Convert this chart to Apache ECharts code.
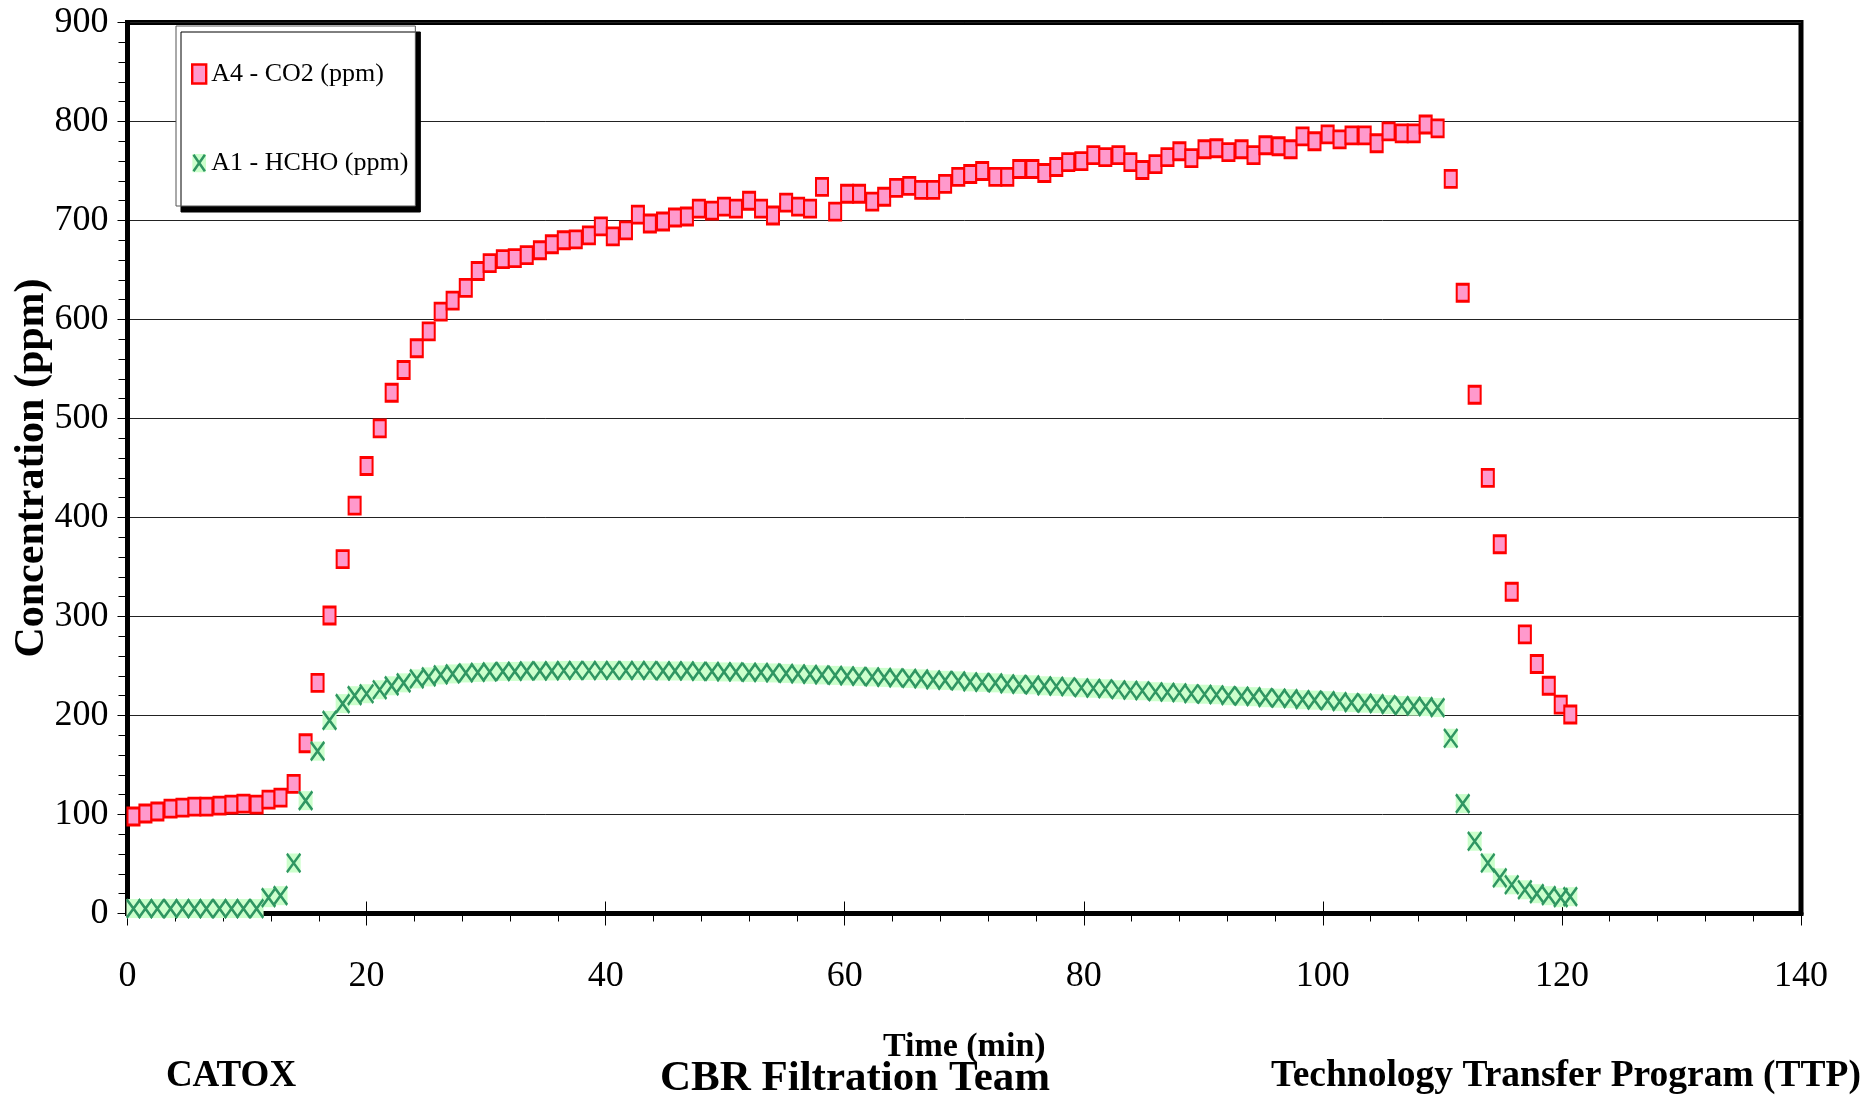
<!DOCTYPE html>
<html>
<head>
<meta charset="utf-8">
<script src="https://cdn.jsdelivr.net/npm/echarts@6.0.0/dist/echarts.min.js"></script>
<style>
html,body{margin:0;padding:0;background:#fff;}
#chart{width:1873px;height:1097px;}
</style>
</head>
<body>
<div id="chart"></div>
<script>
// Sample times (min)
const timeMin = [0.5,1.5,2.5,3.6,4.6,5.6,6.6,7.7,8.7,9.7,
10.8,11.8,12.8,13.9,14.9,15.9,16.9,18.0,19.0,20.0,
21.1,22.1,23.1,24.2,25.2,26.2,27.2,28.3,29.3,30.3,
31.4,32.4,33.4,34.5,35.5,36.5,37.5,38.6,39.6,40.6,
41.7,42.7,43.7,44.8,45.8,46.8,47.8,48.9,49.9,50.9,
52.0,53.0,54.0,55.1,56.1,57.1,58.1,59.2,60.2,61.2,
62.3,63.3,64.3,65.4,66.4,67.4,68.4,69.5,70.5,71.5,
72.6,73.6,74.6,75.7,76.7,77.7,78.7,79.8,80.8,81.8,
82.9,83.9,84.9,86.0,87.0,88.0,89.0,90.1,91.1,92.1,
93.2,94.2,95.2,96.3,97.3,98.3,99.3,100.4,101.4,102.4,
103.5,104.5,105.5,106.6,107.6,108.6,109.6,110.7,111.7,112.7,
113.8,114.8,115.8,116.9,117.9,118.9,119.9,120.7];

// A4 - CO2 (ppm)
const co2 = [98,101,103,106,107,108,108,109,110,111,
110,115,117,131,172,233,301,358,412,452,
490,526,549,571,588,608,619,632,649,657,
661,662,665,670,676,680,681,685,694,684,
690,706,697,699,703,704,712,710,714,712,
720,712,705,718,714,712,734,709,727,727,
719,724,733,735,731,731,737,744,747,750,
744,744,752,752,748,754,759,760,766,764,
766,759,751,757,764,770,763,772,773,769,
772,766,776,775,772,785,780,787,782,786,
786,778,790,788,788,797,793,742,627,524,
440,373,325,282,252,230,211,201];

// A1 - HCHO (ppm)
const hcho = [5,5,5,5,5,5,5,5,5,5,
5,16,18,51,114,164,195,212,220,222,
226,230,233,237,239,241,242,243,243.5,244,
244.5,244.5,245,245,245,245.5,245.5,245.5,245.5,245.5,
245.5,245.5,245.5,245,245,245,244.5,244.5,244,244,
243.5,243.5,243,242.5,242,241.5,241,240.5,240,239.5,
239,238.5,238,237.5,237,236,235.5,235,234,233.5,
233,232,231.5,231,230,229.5,229,228,227.5,227,
226,225.5,225,224,223.5,223,222,221.5,221,220,
219.5,219,218,217.5,217,216,215.5,215,214,213,
212.5,212,211,210,209.5,209,208,177,111,73,
51,36,29,24,20,18,16,17];

const seriesNames = ['A4 - CO2 (ppm)', 'A1 - HCHO (ppm)'];
const xAxisName = 'Time (min)';
const yAxisName = 'Concentration (ppm)';
const footerTexts = ['CATOX', 'CBR Filtration Team', 'Technology Transfer Program (TTP)'];

const co2Data = timeMin.map((t, i) => [t, co2[i]]);
const hchoData = timeMin.map((t, i) => [t, hcho[i]]);

const FONT = '"Liberation Serif", "Times New Roman", serif';
const X_GREEN = '#2F9662';

const hchoIconSvg = '<svg xmlns="http://www.w3.org/2000/svg" width="14" height="19"><rect width="14" height="19" fill="#CCFFCC"/><path d="M1.3,1.2L12.7,17.8M12.7,1.2L1.3,17.8" stroke="' + X_GREEN + '" stroke-width="2.5" fill="none"/></svg>';
const hchoIcon = 'image://data:image/svg+xml;charset=utf-8,' + encodeURIComponent(hchoIconSvg);

const chart = echarts.init(document.getElementById('chart'), null, {renderer: 'canvas'});

const option = {
  animation: false,
  backgroundColor: '#ffffff',
  grid: {
    left: 127.5, right: 72, top: 22.5, bottom: 183.5,
    containLabel: false, outerBoundsMode: 'none',
    show: true, borderColor: '#000', borderWidth: 5, backgroundColor: 'transparent'
  },
  legend: {
    orient: 'vertical',
    left: 176, top: 26,
    padding: [33, 7, 28, 15],
    itemWidth: 14, itemHeight: 19, itemGap: 59,
    backgroundColor: '#ffffff',
    borderColor: '#555', borderWidth: 1,
    shadowColor: '#000', shadowBlur: 0, shadowOffsetX: 5, shadowOffsetY: 6,
    textStyle: {fontFamily: FONT, fontSize: 26, color: '#000', lineHeight: 30},
    data: [
      {name: seriesNames[0], itemStyle: {color: '#FF99CC', borderColor: '#FF0000', borderWidth: 2.4}},
      {name: seriesNames[1], icon: hchoIcon}
    ]
  },
  xAxis: [{
    type: 'value', min: 0, max: 140, interval: 20,
    axisLine: {show: true, onZero: false, lineStyle: {color: '#000', width: 5}},
    axisTick: {show: true, length: 12, lineStyle: {color: '#000', width: 1}},
    minorTick: {show: true, splitNumber: 5, length: 8, lineStyle: {color: '#000', width: 1}},
    axisLabel: {fontFamily: FONT, fontSize: 36, color: '#000', margin: 45},
    splitLine: {show: false},
    name: xAxisName, nameLocation: 'middle', nameGap: 117, nameMoveOverlap: false,
    nameTextStyle: {fontFamily: FONT, fontSize: 34, fontWeight: 'bold', color: '#000'}
  }, {
    type: 'value', min: 0, max: 140, interval: 20, position: 'bottom',
    axisLine: {show: false},
    axisTick: {show: true, inside: true, length: 12, lineStyle: {color: '#000', width: 1}},
    axisLabel: {show: false},
    splitLine: {show: false}
  }],
  yAxis: {
    type: 'value', min: 0, max: 900, interval: 100,
    axisLine: {show: true, lineStyle: {color: '#000', width: 5}},
    axisTick: {show: true, length: 10, lineStyle: {color: '#000', width: 1}},
    minorTick: {show: true, splitNumber: 5, length: 9, lineStyle: {color: '#000', width: 1}},
    axisLabel: {fontFamily: FONT, fontSize: 36, color: '#000', margin: 19},
    splitLine: {show: true, lineStyle: {color: '#222', width: 1}},
    name: yAxisName, nameLocation: 'middle', nameGap: 74, nameMoveOverlap: false,
    nameTextStyle: {fontFamily: FONT, fontSize: 42, fontWeight: 'bold', color: '#000'}
  },
  series: [{
    name: seriesNames[0], type: 'scatter', xAxisIndex: 0, yAxisIndex: 0,
    data: co2Data, symbol: 'rect', symbolSize: [12, 17], clip: false, z: 3,
    itemStyle: {color: '#FF99CC', borderColor: '#FF0000', borderWidth: 2.4, opacity: 1}
  }, {
    name: seriesNames[1], type: 'scatter', xAxisIndex: 0, yAxisIndex: 0,
    data: hchoData, symbol: 'rect', symbolSize: [14, 19], clip: false, z: 3,
    itemStyle: {color: '#CCFFCC', opacity: 1}
  }, {
    name: 'HCHO marker', type: 'scatter', xAxisIndex: 0, yAxisIndex: 0,
    data: hchoData, symbol: 'path://M0,0L12,17M12,0L0,17', symbolSize: [13.5, 18.5], clip: false, z: 4,
    itemStyle: {color: 'rgba(0,0,0,0)', borderColor: X_GREEN, borderWidth: 2.6, opacity: 1}
  }],
  graphic: [
    {type: 'text', x: 231, y: 1076, style: {text: footerTexts[0], font: 'bold 37px ' + FONT, fill: '#000', align: 'center', verticalAlign: 'middle'}},
    {type: 'text', x: 855, y: 1079, style: {text: footerTexts[1], font: 'bold 43px ' + FONT, fill: '#000', align: 'center', verticalAlign: 'middle'}},
    {type: 'text', x: 1566, y: 1076, style: {text: footerTexts[2], font: 'bold 37.5px ' + FONT, fill: '#000', align: 'center', verticalAlign: 'middle'}}
  ]
};
chart.setOption(option);
</script>
</body>
</html>
